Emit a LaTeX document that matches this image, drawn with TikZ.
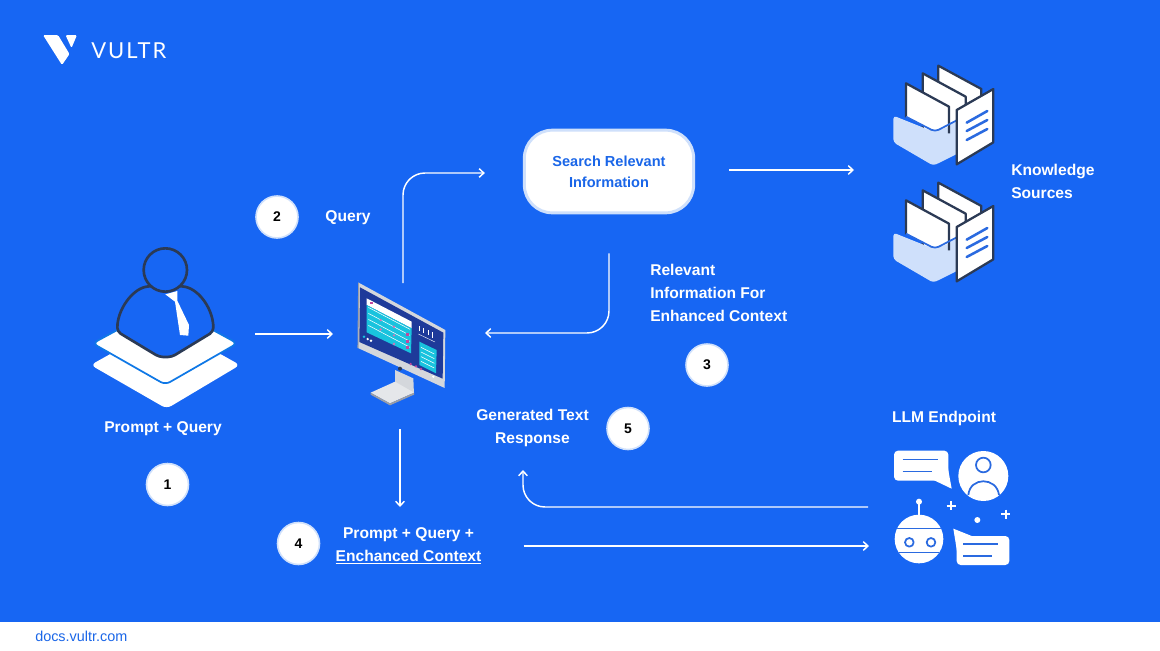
\documentclass[tikz,border=0pt]{standalone}
\usepackage{fontspec}
\setmainfont{Liberation Sans}
\newfontfamily\logofont[LetterSpace=9]{Lato}
\usetikzlibrary{arrows.meta}
\definecolor{bgblue}{HTML}{1766F3}
\definecolor{inkdark}{HTML}{2B3A55}
\definecolor{paleblue}{HTML}{CFE0FB}
\definecolor{stripblue}{HTML}{0F78E6}
\definecolor{midblue}{HTML}{2A6AE0}
\definecolor{textblue}{HTML}{1A66E8}
\definecolor{navy}{HTML}{1E3A9A}
\definecolor{silver}{HTML}{D4D7DC}
\definecolor{silverlo}{HTML}{9A9EA7}
\definecolor{cyanp}{HTML}{19C3DE}
\definecolor{magp}{HTML}{C2479E}
\tikzset{
  conn/.style={draw=white,line width=1.1pt,-{Straight Barb[length=3.5pt,width=6.5pt,line width=1.1pt]}},
  elbow/.style={conn,rounded corners=16.5pt},
  lbl/.style={text=white,inner sep=0pt,font=\fontsize{11.7}{17.25}\selectfont\bfseries},
  num/.style={circle,fill=white,draw=paleblue,line width=1.2pt,minimum size=31.5pt,inner sep=0pt,text=black,font=\fontsize{10.5}{12}\selectfont\bfseries},
  hub/.style={inner sep=0pt,outer sep=0pt,minimum width=#1},
  docicon/.pic={
    \begin{scope}[x=0.25pt,y=-0.25pt,line join=round]
      \foreach \dx/\dy in {97/-53,50/-30}{
        \draw[fill=white,draw=inkdark,line width=1.7pt] ({78+\dx},{85+\dy})--({207+\dx},{155+\dy})--({207+\dx},{260+\dy})--({78+\dx},{260+\dy})--cycle;
      }
      \fill[paleblue,rounded corners=2.5pt] (40,182)--(40,262)--(160,332)--(235,295)--(235,195)--(160,230)--cycle;
      \fill[white] (80,85)--(207,155)--(207,215)--(165,228)--(80,185)--cycle;
      \draw[inkdark,line width=1.7pt] (207,235)--(207,155)--(78,85)--(78,187);
      \draw[midblue,line width=1.3pt,rounded corners=3pt] (78,185)--(165,230)--(232,195);
      \draw[fill=white,draw=inkdark,line width=1.7pt] (230,165)--(340,102)--(340,262)--(230,328)--cycle;
      \draw[midblue,line width=1.9pt,line cap=round] (260,203)--(322,168) (260,228)--(322,195) (260,255)--(322,222);
    \end{scope}
  },
  usericon/.pic={
    \begin{scope}[x=0.25pt,y=-0.25pt,line join=round]
      \fill[white,rounded corners=4pt] (92,405)--(316,280)--(540,405)--(320,536)--cycle;
      \draw[fill=white,draw=stripblue,line width=1.3pt,rounded corners=4pt] (98,340)--(316,222)--(532,340)--(316,464)--cycle;
      \draw[fill=bgblue,draw=inkdark,line width=2pt,rounded corners=3pt]
        (172,305) .. controls (172,240) and (215,180) .. (268,168) -- (364,168)
        .. controls (420,180) and (460,240) .. (460,305) -- (335,381) -- (298,381) -- cycle;
      \fill[white] (316,193)--(352,183)--(352,212)--(387,285)--(385,317)--(360,315)--(345,215)--cycle;
      \draw[fill=bgblue,draw=inkdark,line width=2pt] (316,120) circle[radius=65];
    \end{scope}
  },
  moniticon/.pic={
    \begin{scope}[x=0.25pt,y=-0.25pt,line join=round]
      \fill[silver] (165,300)--(220,325)--(222,375)--(165,345)--cycle;
      \fill[silver!60!white] (92,368)--(165,335)--(222,368)--(150,400)--cycle;
      \fill[silverlo] (92,368)--(150,400)--(222,368)--(222,374)--(150,406)--(92,374)--cycle;
      \fill[silver] (56,38)--(316,180)--(314,354)--(54,234)--cycle;
      \draw[silverlo,line width=0.8pt] (56,38)--(54,234);
      \fill[navy] (60,52)--(310,188)--(308,326)--(58,216)--cycle;
      \fill[white] (80,85)--(215,155)--(215,175)--(80,105)--cycle;
      \fill[cyanp] (80,105)--(215,175)--(213,250)--(80,187)--cycle;
      \foreach \yy in {0,18,36,54}{\draw[white,line width=0.4pt] (85,{112+\yy})--(210,{178+\yy});}
      \foreach \xx/\yy in {122/150,122/178,162/170,162/196,162/222}{\fill[magp!75!white] (\xx,\yy) circle[radius=4];}
      \foreach \yy in {190,210,228}{\fill[magp] (198,\yy) rectangle (206,{\yy+9});}
      \fill[magp] (90,95) rectangle (98,103); \fill[white] (101,99) rectangle (108,106);
      \fill[cyanp] (238,215)--(290,240)--(288,310)--(238,285)--cycle;
      \foreach \yy in {0,14,28,42}{\draw[white,line width=0.4pt] (243,{232+\yy})--(283,{252+\yy});}
      \draw[white,line width=0.7pt] (238,168)--(238,184) (250,174)--(250,190) (264,180)--(264,196) (278,187)--(278,203);
      \draw[white,line width=0.3pt] (235,192)--(285,216);
      \foreach \xx/\yy/\cc in {72/200/cyanp,83/207/white,93/212/white,212/282/magp,228/289/magp,243/297/magp,280/320/white}{\fill[\cc] (\xx,\yy) circle[radius=4];}
      \fill[inkdark] (180,296) circle[radius=6];
    \end{scope}
  },
  llmicon/.pic={
    \begin{scope}[x=0.25pt,y=-0.25pt,line join=round]
      \fill[white,rounded corners=3pt] (42,32) rectangle (205,122);
      \fill[white] (150,115)--(215,146)--(203,80)--cycle;
      \draw[midblue,line width=1.2pt] (68,58)--(175,58) (68,95)--(155,95);
      \fill[white] (310,108) circle[radius=75];
      \draw[midblue,line width=1.3pt] (310,75) circle[radius=22];
      \draw[midblue,line width=1.3pt] (265,165) .. controls (270,110) and (350,110) .. (357,165);
      \fill[white] (117,297) circle[radius=73];
      \draw[white,line width=1.1pt] (117,185)--(117,228);
      \fill[white] (117,185) circle[radius=9];
      \begin{scope}
        \clip (117,297) circle[radius=73];
        \draw[midblue,line width=1.2pt] (40,265)--(195,265) (40,338)--(195,338);
      \end{scope}
      \draw[midblue,line width=1.3pt] (88,307) circle[radius=13] (153,307) circle[radius=13];
      \draw[white,line width=1.5pt] (200,197)--(227,197) (213,184)--(213,211) (364,222)--(391,222) (377,209)--(377,236);
      \fill[white] (292,240) circle[radius=9];
      \fill[white,rounded corners=3pt] (230,288) rectangle (388,375);
      \fill[white] (220,266)--(290,294)--(232,340)--cycle;
      \draw[midblue,line width=1.2pt] (250,312)--(355,312) (250,348)--(335,348);
    \end{scope}
  }
}
\begin{document}
\begin{tikzpicture}[x=0.75pt,y=-0.75pt]
\useasboundingbox (0,0) rectangle (1160,650);
\fill[bgblue] (0,0) rectangle (1160,650);
\fill[white] (0,622) rectangle (1160,650);
% logo
\fill[white,rounded corners=1pt] (43,35)--(58,35)--(69.5,54)--(62,65)--cycle;
\fill[white,rounded corners=1pt] (65.5,35)--(77,35)--(71.5,48)--cycle;
\node[text=white,inner sep=0pt,anchor=west,font=\fontsize{16.5}{18}\logofont] (brand) at (91,51) {VULTR};
\node[text=textblue,inner sep=0pt,anchor=west,font=\fontsize{10.8}{12}\selectfont] (site) at (35,636) {docs.vultr.com};
% icons
\pic at (60,230) {usericon};
\pic at (340,270) {moniticon};
\pic at (880,55) {docicon};
\pic at (880,172) {docicon};
\pic at (880,440) {llmicon};
% anchors of the icons
\node[hub=120pt,minimum height=120pt] (user) at (175,334) {};
\node[hub=125.25pt,minimum height=109.5pt] (monitor) at (401.5,356) {};
\node[hub=105pt,minimum height=75pt] (docs) at (924,115) {};
\node[hub=106.5pt,minimum height=90pt] (llm) at (939,508) {};
% search box
\node[draw=paleblue,fill=white,line width=2.2pt,rounded corners=21pt,minimum width=127pt,minimum height=62pt,align=center,
  text=textblue,inner sep=0pt,font=\fontsize{10.9}{16}\selectfont\bfseries] (search) at (609,171.5) {Search Relevant\\Information};
% labels
\node[lbl] (t1) at (163,429) {Prompt + Query};
\node[lbl] (t2) at (348,218) {Query};
\node[lbl,align=left,anchor=west] (t3) at (650,293) {Relevant\\Information For\\Enhanced Context};
\node[lbl,align=center] (t5) at (532.5,428) {Generated Text\\Response};
\node[lbl,align=center] (t4) at (408.5,546) {Prompt + Query +\\\underline{Enchanced Context}};
\node[lbl] (t6) at (944,418) {LLM Endpoint};
\node[lbl,align=left,anchor=west] (t7) at (1011,181.5) {Knowledge\\Sources};
% numbers
\node[num] (n1) at (167.5,484.5) {1};
\node[num] (n2) at (277,217) {2};
\node[num] (n3) at (707,365) {3};
\node[num] (n4) at (298.5,543.5) {4};
\node[num] (n5) at (628,428.5) {5};
% connectors
\draw[conn] (user.east) -- ([shift={(15,-22)}]monitor.west);
\draw[elbow] ([shift={(1.5,0)}]monitor.north) |- ([shift={(-38,1.5)}]search.west);
\draw[conn] ([shift={(34,-1.5)}]search.east) -- ([shift={(0,55)}]docs.west);
\draw[elbow] ([shift={(0,39)}]search.south) |- ([shift={(0,-23)}]monitor.east);
\draw[conn] ([shift={(-1.5,0)}]monitor.south) -- ([shift={(-1.5,78)}]monitor.south);
\draw[elbow] ([shift={(0,-1)}]llm.west) -| ([shift={(-9.5,23)}]t5.south);
\draw[conn] ([shift={(42,0)}]t4.east) -- ([shift={(1,38)}]llm.west);
\end{tikzpicture}
\end{document}
